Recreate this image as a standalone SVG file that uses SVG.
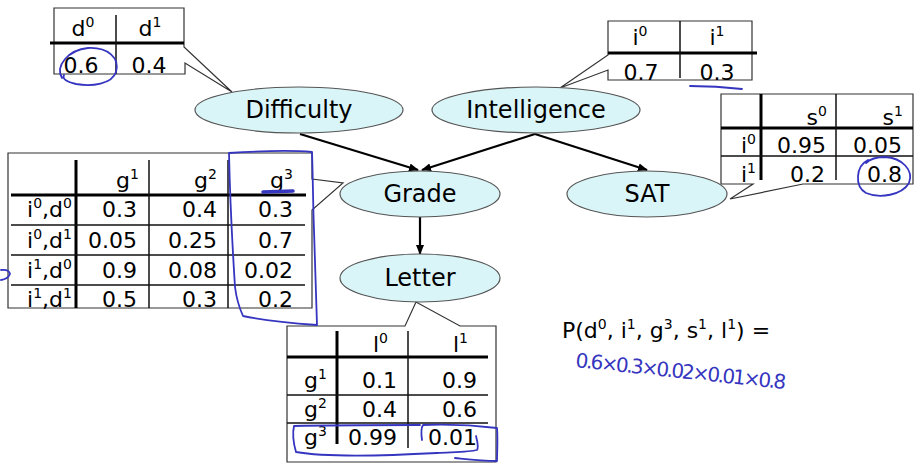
<svg xmlns="http://www.w3.org/2000/svg" width="917" height="473" viewBox="0 0 917 473">
<defs>
<style>
.t{font-family:"DejaVu Sans","Liberation Sans",sans-serif;font-size:22px;fill:#000}
.n{font-size:24px}
.s{font-size:14px}
.e{fill:#daf5f8;stroke:#555;stroke-width:1.2}
.box{fill:#fff;stroke:#333;stroke-width:1.2}
.thick{stroke:#000;stroke-width:3}
.thin{stroke:#111;stroke-width:1.5}
.edge{stroke:#000;stroke-width:2.2;fill:none;marker-end:url(#ah)}
.pen{fill:none;stroke:#3535c0;stroke-width:1.8;stroke-linecap:round;stroke-linejoin:round}
</style>
<marker id="ah" markerWidth="10" markerHeight="8" refX="9" refY="4" orient="auto" markerUnits="userSpaceOnUse">
<path d="M0,0 L10,4 L0,8 Z" fill="#000"/>
</marker>
</defs>
<rect width="917" height="473" fill="#fff"/>

<g id="connectors">
<line class="edge" x1="300" y1="134" x2="418" y2="170"/>
<line class="edge" x1="535" y1="134" x2="422" y2="170"/>
<line class="edge" x1="535" y1="134" x2="647" y2="170"/>
<line class="edge" x1="420" y1="217" x2="420" y2="254"/>
</g>

<g id="cpd-difficulty">
<path class="box" d="M54,8 H184 V47 L232,92 L185,63 V74 H54 Z"/>
<line class="thick" x1="50" y1="43" x2="184" y2="43"/>
<line class="thin" x1="116" y1="15" x2="116" y2="74"/>
<text class="t" x="83" y="36" text-anchor="middle">d<tspan class="s" dy="-9">0</tspan></text>
<text class="t" x="150" y="36" text-anchor="middle">d<tspan class="s" dy="-9">1</tspan></text>
<text class="t" x="81" y="73" text-anchor="middle">0.6</text>
<text class="t" x="149" y="73" text-anchor="middle">0.4</text>
</g>

<g id="cpd-intelligence">
<path class="box" d="M608,21 H752 V80 H608 V70 L560,88 L608,55 Z"/>
<line class="thick" x1="608" y1="53" x2="757" y2="53"/>
<line class="thin" x1="680" y1="21" x2="680" y2="78"/>
<text class="t" x="640" y="45" text-anchor="middle">i<tspan class="s" dy="-9">0</tspan></text>
<text class="t" x="717" y="45" text-anchor="middle">i<tspan class="s" dy="-9">1</tspan></text>
<text class="t" x="641" y="80" text-anchor="middle">0.7</text>
<text class="t" x="717" y="80" text-anchor="middle">0.3</text>
</g>

<g id="cpd-sat">
<path class="box" d="M721,94 H913 V184 H803 L730,199 L753,184 H721 Z"/>
<line class="thick" x1="721" y1="128" x2="913" y2="128"/>
<line class="thick" x1="761" y1="94" x2="761" y2="180"/>
<line class="thin" x1="836" y1="94" x2="836" y2="180"/>
<line class="thin" x1="721" y1="156" x2="913" y2="156"/>
<text class="t" x="827" y="125" text-anchor="end">s<tspan class="s" dy="-9">0</tspan></text>
<text class="t" x="903" y="125" text-anchor="end">s<tspan class="s" dy="-9">1</tspan></text>
<text class="t" x="756" y="153" text-anchor="end">i<tspan class="s" dy="-9">0</tspan></text>
<text class="t" x="826" y="153" text-anchor="end">0.95</text>
<text class="t" x="902" y="153" text-anchor="end">0.05</text>
<text class="t" x="756" y="182" text-anchor="end">i<tspan class="s" dy="-9">1</tspan></text>
<text class="t" x="825" y="182" text-anchor="end">0.2</text>
<text class="t" x="902" y="182" text-anchor="end">0.8</text>
</g>

<g id="cpd-grade">
<path class="box" d="M8,153 H312 V179 L343,183 L312,210 V308 H8 Z"/>
<line class="thick" x1="11" y1="195" x2="306" y2="195"/>
<line class="thick" x1="76" y1="160" x2="76" y2="308"/>
<line class="thin" x1="149" y1="160" x2="149" y2="308"/>
<line class="thin" x1="228" y1="160" x2="228" y2="308"/>
<line class="thin" x1="11" y1="225" x2="305" y2="225"/>
<line class="thin" x1="11" y1="255" x2="305" y2="255"/>
<line class="thin" x1="11" y1="285" x2="305" y2="285"/>
<text class="t" x="139" y="188" text-anchor="end">g<tspan class="s" dy="-9">1</tspan></text>
<text class="t" x="217" y="188" text-anchor="end">g<tspan class="s" dy="-9">2</tspan></text>
<text class="t" x="293" y="188" text-anchor="end">g<tspan class="s" dy="-9">3</tspan></text>
<text class="t" x="72" y="217" text-anchor="end">i<tspan class="s" dy="-9">0</tspan><tspan dy="9">,d</tspan><tspan class="s" dy="-9">0</tspan></text>
<text class="t" x="137" y="217" text-anchor="end">0.3</text>
<text class="t" x="217" y="217" text-anchor="end">0.4</text>
<text class="t" x="293" y="217" text-anchor="end">0.3</text>
<text class="t" x="72" y="248" text-anchor="end">i<tspan class="s" dy="-9">0</tspan><tspan dy="9">,d</tspan><tspan class="s" dy="-9">1</tspan></text>
<text class="t" x="137" y="248" text-anchor="end">0.05</text>
<text class="t" x="217" y="248" text-anchor="end">0.25</text>
<text class="t" x="293" y="248" text-anchor="end">0.7</text>
<text class="t" x="72" y="278" text-anchor="end">i<tspan class="s" dy="-9">1</tspan><tspan dy="9">,d</tspan><tspan class="s" dy="-9">0</tspan></text>
<text class="t" x="137" y="278" text-anchor="end">0.9</text>
<text class="t" x="217" y="278" text-anchor="end">0.08</text>
<text class="t" x="293" y="278" text-anchor="end">0.02</text>
<text class="t" x="72" y="307" text-anchor="end">i<tspan class="s" dy="-9">1</tspan><tspan dy="9">,d</tspan><tspan class="s" dy="-9">1</tspan></text>
<text class="t" x="137" y="307" text-anchor="end">0.5</text>
<text class="t" x="217" y="307" text-anchor="end">0.3</text>
<text class="t" x="293" y="307" text-anchor="end">0.2</text>
</g>

<g id="cpd-letter">
<path class="box" d="M287,326 H405 L416,302 L460,326 H496 V462 H287 Z"/>
<line class="thick" x1="287" y1="357" x2="488" y2="357"/>
<line class="thick" x1="337" y1="331" x2="337" y2="444"/>
<line class="thin" x1="408" y1="331" x2="408" y2="448"/>
<line class="thin" x1="287" y1="395" x2="488" y2="395"/>
<line class="thin" x1="287" y1="423" x2="488" y2="423"/>
<text class="t" x="388" y="352" text-anchor="end">l<tspan class="s" dy="-9">0</tspan></text>
<text class="t" x="468" y="352" text-anchor="end">l<tspan class="s" dy="-9">1</tspan></text>
<text class="t" x="327" y="388" text-anchor="end">g<tspan class="s" dy="-9">1</tspan></text>
<text class="t" x="397" y="388" text-anchor="end">0.1</text>
<text class="t" x="477" y="388" text-anchor="end">0.9</text>
<text class="t" x="327" y="417" text-anchor="end">g<tspan class="s" dy="-9">2</tspan></text>
<text class="t" x="397" y="417" text-anchor="end">0.4</text>
<text class="t" x="477" y="417" text-anchor="end">0.6</text>
<text class="t" x="327" y="445" text-anchor="end">g<tspan class="s" dy="-9">3</tspan></text>
<text class="t" x="397" y="445" text-anchor="end">0.99</text>
<text class="t" x="477" y="445" text-anchor="end">0.01</text>
</g>

<g id="node-difficulty">
<ellipse class="e" cx="299" cy="110" rx="104" ry="23"/>
<text class="t n" x="299" y="118" text-anchor="middle">Difficulty</text>
</g>
<g id="node-intelligence">
<ellipse class="e" cx="536" cy="110" rx="104" ry="23"/>
<text class="t n" x="536" y="118" text-anchor="middle">Intelligence</text>
</g>
<g id="node-grade">
<ellipse class="e" cx="420" cy="194" rx="80" ry="23"/>
<text class="t n" x="420" y="202" text-anchor="middle">Grade</text>
</g>
<g id="node-sat">
<ellipse class="e" cx="647" cy="194" rx="80" ry="23"/>
<text class="t n" x="647" y="202" text-anchor="middle">SAT</text>
</g>
<g id="node-letter">
<ellipse class="e" cx="420" cy="278" rx="80" ry="24"/>
<text class="t n" x="420" y="286" text-anchor="middle">Letter</text>
</g>

<g id="formula">
<text class="t" x="562" y="338">P(d<tspan class="s" dy="-9">0</tspan><tspan dy="9">, i</tspan><tspan class="s" dy="-9">1</tspan><tspan dy="9">, g</tspan><tspan class="s" dy="-9">3</tspan><tspan dy="9">, s</tspan><tspan class="s" dy="-9">1</tspan><tspan dy="9">, l</tspan><tspan class="s" dy="-9">1</tspan><tspan dy="9">) =</tspan></text>
<text x="575" y="367" transform="rotate(6 575 367)" style="font-family:'DejaVu Sans','Liberation Sans',sans-serif;font-size:20px;letter-spacing:-2px;fill:#3535c0">0.6×0.3×0.02×0.01×0.8</text>
</g>

<g id="annotations">
<path class="pen" d="M62,78 C55,66 68,50 88,48 C108,47 120,58 116,72 C112,84 92,87 76,84 C67,82 62,79 64,75"/>
<path class="pen" d="M690,86 Q716,86 742,89"/>
<path class="pen" d="M868,160 C856,166 854,186 866,193 C880,199 902,195 909,183 C914,170 902,158 885,157 C876,157 870,159 866,163"/>
<path class="pen" d="M229,153 C260,151 290,150 312,152 C313,180 313,205 314,230 C315,270 316,300 317,325 C290,323 262,320 243,316 C238,305 236,295 235,287 C232,240 230,200 229,153"/>
<path class="pen" style="stroke-width:3.5" d="M263,192 L293,191"/>
<path class="pen" d="M1,270 Q9,269 10,274 Q8,279 1,280"/>
<path class="pen" d="M294,426 C330,425 380,425 420,425 M294,426 C292,435 294,445 296,452 C330,458 400,455 437,453 C455,452 470,452 477,450 C479,447 477,440 476,436"/>
<path class="pen" d="M422,440 C421,433 421,428 423,425 C450,424 480,426 497,428 C498,440 497,452 497,461 C480,461 465,459 455,458"/>
</g>
</svg>
